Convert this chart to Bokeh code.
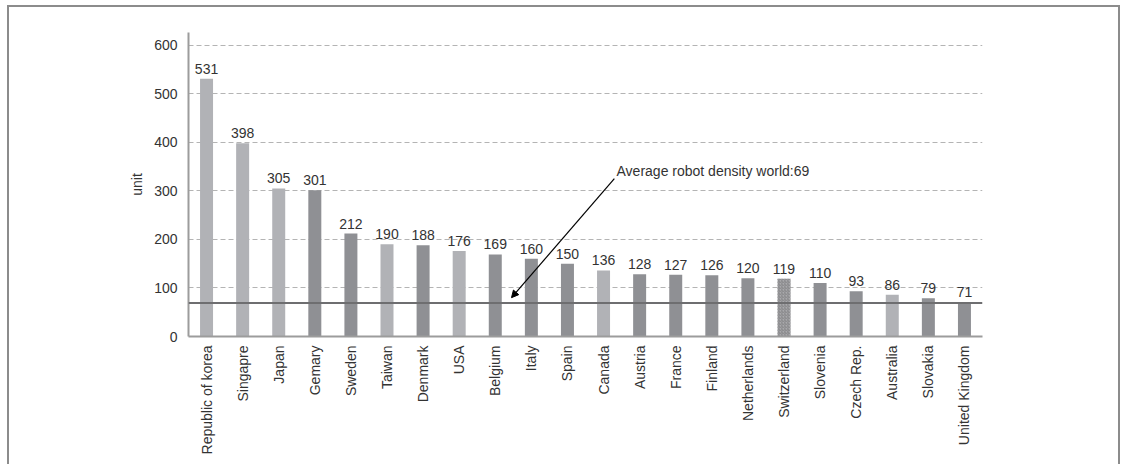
from bokeh.plotting import figure
from bokeh.models import (ColumnDataSource, FixedTicker, Span, Arrow, NormalHead,
                          Label, LabelSet)
from bokeh.core.properties import value
from bokeh.embed import file_html
from bokeh.resources import INLINE

countries = ["Republic of korea", "Singapre", "Japan", "Gemary", "Sweden", "Taiwan",
             "Denmark", "USA", "Belgium", "Italy", "Spain", "Canada", "Austria",
             "France", "Finland", "Netherlands", "Switzerland", "Slovenia",
             "Czech Rep.", "Australia", "Slovakia", "United Kingdom"]
density = [531, 398, 305, 301, 212, 190, 188, 176, 169, 160, 150, 136, 128, 127,
           126, 120, 119, 110, 93, 86, 79, 71]
shade = ["L", "L", "L", "D", "D", "L", "D", "L", "D", "D", "D", "L", "D", "D",
         "D", "D", "H", "D", "D", "L", "D", "D"]
world_average = 69
y_ticks = [0, 100, 200, 300, 400, 500, 600]
annotation_text = "Average robot density world:69"

palette = {"L": "#b1b2b6", "D": "#8f9094", "H": "#a9a9ab"}
colors = [palette[s] for s in shade]
hatch = ["right_diagonal_line" if s == "H" else " " for s in shade]

src = ColumnDataSource(dict(x=countries, top=density, color=colors, hatch=hatch,
                            label=[str(v) for v in density]))

FONT = "Liberation Sans"
p = figure(width=1113, height=470, x_range=countries, y_range=(0, 626),
           output_backend="svg", toolbar_location=None,
           min_border_left=179, min_border_right=140, min_border_top=25,
           min_border_bottom=141)
p.styles = {"border": "2px solid #8c8c8c", "margin-left": "7px", "margin-top": "5px"}
p.outline_line_color = None
p.background_fill_color = "white"
p.border_fill_color = "white"

p.vbar(x="x", top="top", width=0.36, source=src, fill_color="color", line_color=None,
       hatch_pattern="hatch", hatch_color="#7c7c80", hatch_scale=3, hatch_weight=0.8)

labels = LabelSet(x="x", y="top", text="label", source=src, text_align="center",
                  text_baseline="alphabetic", y_offset=5, text_font=value(FONT),
                  text_font_size=value("14px"), text_color=value("#333333"))
p.add_layout(labels)

avg = Span(location=world_average, dimension="width", line_color="#6e6e70",
           line_width=2.2)
p.add_layout(avg)

p.add_layout(Arrow(end=NormalHead(size=7, fill_color="black", line_color="black"),
                   x_start=11.8, y_start=325, x_end=8.95, y_end=80,
                   line_color="black", line_width=1.2))
p.add_layout(Label(x=11.86, y=341, text=annotation_text, text_baseline="middle",
                   text_font=FONT, text_font_size="14px", text_color="#333333"))

p.yaxis.ticker = FixedTicker(ticks=y_ticks)
p.ygrid.ticker = FixedTicker(ticks=y_ticks[1:])
p.ygrid.grid_line_color = "#b4b4b4"
p.ygrid.grid_line_dash = "5 3"
p.ygrid.grid_line_width = 1
p.xgrid.grid_line_color = None

for ax in (p.xaxis, p.yaxis):
    ax.axis_line_color = "#9c9c9c"
    ax.axis_line_width = 2
    ax.major_tick_line_color = None
    ax.minor_tick_line_color = None
    ax.major_label_text_font = FONT
    ax.major_label_text_font_size = "14px"
    ax.major_label_text_color = "#333333"

p.yaxis.major_label_standoff = 5
p.yaxis.axis_label = "unit"
p.yaxis.axis_label_text_font = FONT
p.yaxis.axis_label_text_font_size = "14px"
p.yaxis.axis_label_text_font_style = "normal"
p.yaxis.axis_label_text_color = "#333333"
p.yaxis.axis_label_standoff = 6
p.xaxis.major_label_orientation = 1.5708
p.xaxis.major_label_standoff = 3

open("out.html", "w").write(file_html(p, INLINE))
